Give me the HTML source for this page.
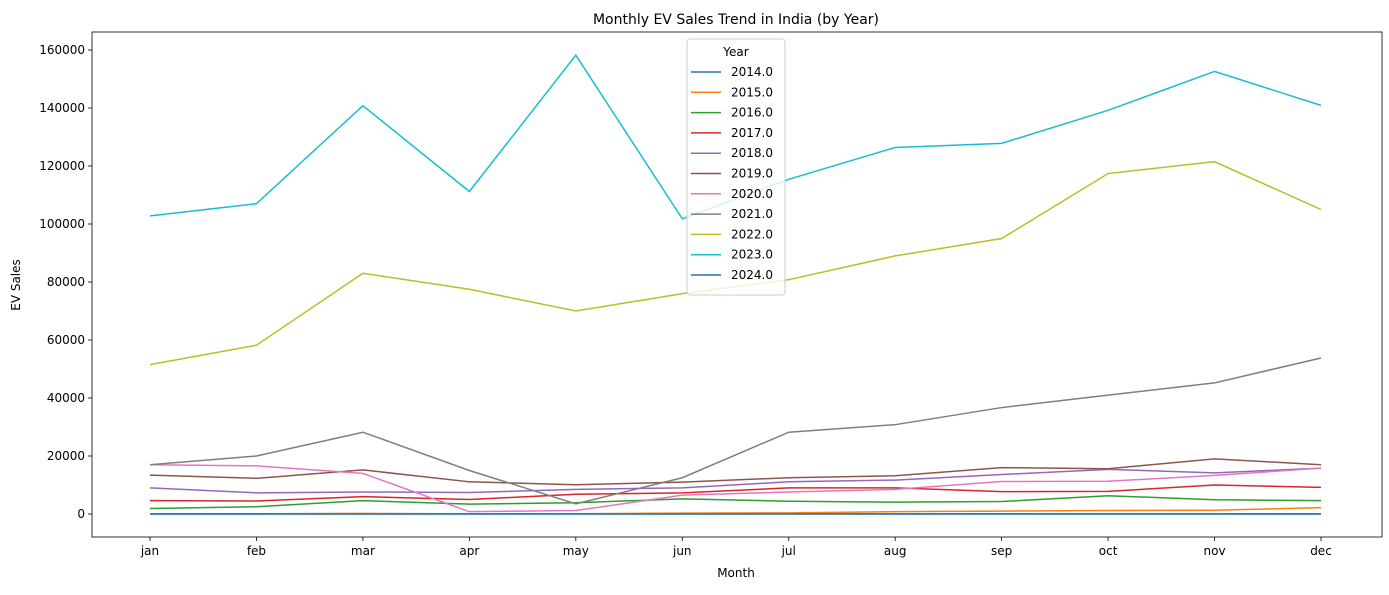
<!DOCTYPE html>
<html><head><meta charset="utf-8"><style>
body{margin:0;background:#fff;font-family:"Liberation Sans","DejaVu Sans",sans-serif;}
text{font-family:"DejaVu Sans","Liberation Sans",sans-serif;}
</style></head><body>
<svg id="chart" width="1389" height="590">
<text x="736" y="24" font-size="14" text-anchor="middle">Monthly EV Sales Trend in India (by Year)</text>
<text x="736" y="577" font-size="12" text-anchor="middle">Month</text>
<text x="20" y="285" font-size="12" text-anchor="middle" transform="rotate(-90 20 285)">EV Sales</text>
<g id="ticks"></g><g id="lines"></g>
<rect x="92" y="32" width="1290" height="505" fill="none" stroke="#000" stroke-width="0.8"/>
<g id="legend"></g>
</svg>
<script>
const months=["jan","feb","mar","apr","may","jun","jul","aug","sep","oct","nov","dec"];
const years=["2014.0","2015.0","2016.0","2017.0","2018.0","2019.0","2020.0","2021.0","2022.0","2023.0","2024.0"];
const colors=["#1f77b4","#ff7f0e","#2ca02c","#d62728","#9467bd","#8c564b","#e377c2","#7f7f7f","#bcbd22","#17becf","#1f77b4"];
const yTicks=[0,20000,40000,60000,80000,100000,120000,140000,160000];
const s2014=[50,50,50,50,50,50,50,50,50,50,50,50];
const s2015=[100,100,200,100,100,300,400,800,1000,1200,1300,2200];
const s2016=[1900,2500,4600,3400,3900,5200,4400,4100,4300,6300,4900,4600];
const s2017=[4600,4500,6000,5000,6800,7300,9000,9000,7700,7800,10000,9200];
const s2018=[9000,7300,7600,7400,8500,9000,11100,11700,13600,15400,14200,15800];
const s2019=[13400,12300,15200,11100,10100,11000,12500,13200,16000,15600,19000,17000];
const s2020=[17000,16600,14000,800,1200,6500,7600,8500,11200,11300,13300,15800];
const s2021=[17000,20000,28200,15000,3500,12500,28200,30800,36700,41000,45200,53800];
const s2022=[51500,58200,83000,77500,70000,76000,80800,89000,95000,117400,121500,105000];
const s2023=[102800,107000,140800,111200,158200,101800,115400,126400,127800,139200,152600,140900];
const s2024=[0,0,0,0,0,0,0,0,0,0,0,0];
const series=[s2014,s2015,s2016,s2017,s2018,s2019,s2020,s2021,s2022,s2023,s2024];
const NS="http://www.w3.org/2000/svg";
const xS=i=>150+i*(1321-150)/11;
const yS=v=>514-v*(464/160000);
function mk(t,a,p){const e=document.createElementNS(NS,t);for(const k in a)e.setAttribute(k,a[k]);p.appendChild(e);return e;}
const tg=document.getElementById('ticks');
months.forEach((m,i)=>{const x=xS(i);
 const l=mk('line',{x1:x,x2:x,y1:537,y2:541,stroke:'#000','stroke-width':0.8},tg);
 
 
 const t=mk('text',{x:x,y:555,'font-size':12,'text-anchor':'middle'},tg);t.textContent=m;
 
 });
yTicks.forEach(v=>{const y=yS(v);
 const l=mk('line',{x1:88,x2:92,y1:y,y2:y,stroke:'#000','stroke-width':0.8},tg);
 
 
 const t=mk('text',{x:85,y:y+4,'font-size':12,'text-anchor':'end'},tg);t.textContent=v;
 
 });
const lg=document.getElementById('lines');
series.forEach((s,k)=>{const p=mk('polyline',{points:s.map((v,i)=>xS(i)+','+yS(v)).join(' '),fill:'none',stroke:colors[k],'stroke-width':1.5},lg);
 
 });
const L=document.getElementById('legend');
const box=mk('rect',{x:687,y:39,width:98,height:256,fill:'#fff','fill-opacity':0.8,stroke:'#ccc',rx:3},L);


const lt=mk('text',{x:736,y:56,'font-size':12,'text-anchor':'middle'},L);lt.textContent='Year';


years.forEach((yr,k)=>{const y=72+k*20.3;
 const g=mk('g',{},L);
 
 
 mk('line',{x1:691,x2:721,y1:y,y2:y,stroke:colors[k],'stroke-width':1.5},g);
 const t=mk('text',{x:731,y:y+4,'font-size':12},g);t.textContent=yr;});
</script>
</body></html>
